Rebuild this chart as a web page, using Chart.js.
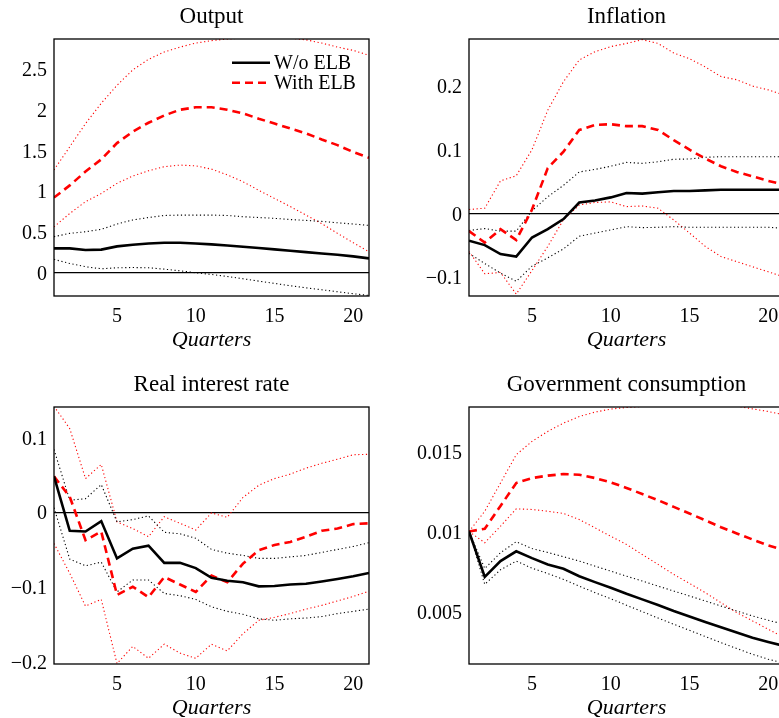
<!DOCTYPE html>
<html>
<head>
<meta charset="utf-8">
<title>Impulse responses with and without ELB</title>
<script src="https://cdn.jsdelivr.net/npm/chart.js@4.4.1/dist/chart.umd.min.js"></script>
<style>
    html, body { margin: 0; padding: 0; background: #ffffff; overflow: hidden; }
    body { position: relative; width: 779px; height: 718px; }
    canvas { position: absolute; }
</style>
</head>
<body>
<canvas id="outputChart" width="390" height="360" style="left:0;top:0"></canvas>
<canvas id="inflationChart" width="415" height="360" style="left:390px;top:0"></canvas>
<canvas id="rateChart" width="390" height="360" style="left:0;top:368px"></canvas>
<canvas id="govChart" width="415" height="360" style="left:390px;top:368px"></canvas>
<script>
/* ==========================================================================
   Impulse responses - data
   ========================================================================== */

const quarters = [1, 2, 3, 4, 5, 6, 7, 8, 9, 10, 11, 12, 13, 14, 15, 16, 17, 18, 19, 20, 21];
const xTicks = [5, 10, 15, 20];

// Output
const outputTicks = [0, 0.5, 1, 1.5, 2, 2.5];
const outputNoElb = [0.295, 0.295, 0.275, 0.28, 0.32, 0.34, 0.355, 0.365, 0.365, 0.355, 0.345, 0.33, 0.315, 0.3, 0.283, 0.266, 0.25, 0.233, 0.217, 0.197, 0.172];
const outputNoElbLow = [0.16, 0.11, 0.07, 0.045, 0.057, 0.06, 0.057, 0.04, 0.02, -0.004, -0.025, -0.05, -0.078, -0.107, -0.135, -0.164, -0.19, -0.213, -0.238, -0.262, -0.283];
const outputNoElbHigh = [0.44, 0.48, 0.5, 0.53, 0.595, 0.645, 0.675, 0.7, 0.705, 0.705, 0.705, 0.7, 0.685, 0.675, 0.665, 0.65, 0.64, 0.627, 0.61, 0.595, 0.578];
const outputElb = [0.92, 1.07, 1.24, 1.39, 1.59, 1.73, 1.84, 1.93, 2.0, 2.03, 2.03, 2.0, 1.955, 1.89, 1.83, 1.77, 1.71, 1.635, 1.565, 1.48, 1.41];
const outputElbLow = [0.56, 0.725, 0.87, 0.97, 1.095, 1.185, 1.25, 1.3, 1.32, 1.31, 1.27, 1.2, 1.115, 1.01, 0.91, 0.81, 0.705, 0.6, 0.48, 0.365, 0.254];
const outputElbHigh = [1.26, 1.545, 1.83, 2.08, 2.3, 2.49, 2.62, 2.71, 2.77, 2.82, 2.85, 2.87, 2.88, 2.89, 2.89, 2.88, 2.86, 2.82, 2.77, 2.73, 2.67];

// Inflation
const inflationTicks = [-0.1, 0, 0.1, 0.2];
const inflationNoElb = [-0.043, -0.05, -0.064, -0.068, -0.038, -0.025, -0.009, 0.017, 0.02, 0.025, 0.032, 0.031, 0.033, 0.035, 0.035, 0.036, 0.037, 0.037, 0.037, 0.037, 0.037];
const inflationNoElbLow = [-0.063, -0.079, -0.094, -0.107, -0.083, -0.07, -0.056, -0.036, -0.031, -0.026, -0.021, -0.0225, -0.022, -0.021, -0.022, -0.022, -0.022, -0.022, -0.022, -0.022, -0.0235];
const inflationNoElbHigh = [-0.027, -0.024, -0.028, -0.028, 0.004, 0.026, 0.044, 0.065, 0.069, 0.074, 0.08, 0.0785, 0.081, 0.085, 0.0853, 0.088, 0.089, 0.089, 0.089, 0.089, 0.089];
const inflationElb = [-0.028, -0.046, -0.025, -0.042, 0.006, 0.071, 0.097, 0.131, 0.139, 0.14, 0.137, 0.137, 0.131, 0.115, 0.1, 0.086, 0.074, 0.065, 0.058, 0.051, 0.045];
const inflationElbLow = [-0.06, -0.095, -0.093, -0.127, -0.09, -0.052, -0.01, 0.013, 0.017, 0.018, 0.0105, 0.0115, 0.008, -0.0105, -0.031, -0.052, -0.068, -0.076, -0.084, -0.092, -0.1];
const inflationElbHigh = [0.006, 0.008, 0.051, 0.059, 0.1, 0.162, 0.207, 0.241, 0.254, 0.262, 0.267, 0.273, 0.267, 0.252, 0.243, 0.23, 0.215, 0.21, 0.2, 0.194, 0.186];

// Real interest rate
const rateTicks = [-0.2, -0.1, 0, 0.1];
const rateNoElb = [0.048, -0.025, -0.026, -0.012, -0.062, -0.049, -0.045, -0.068, -0.068, -0.075, -0.088, -0.092, -0.094, -0.0995, -0.099, -0.097, -0.096, -0.093, -0.0897, -0.086, -0.0816];
const rateNoElbLow = [0.006, -0.063, -0.072, -0.067, -0.107, -0.091, -0.091, -0.109, -0.112, -0.117, -0.127, -0.133, -0.137, -0.143, -0.145, -0.143, -0.142, -0.14, -0.136, -0.133, -0.13];
const rateNoElbHigh = [0.084, 0.016, 0.018, 0.037, -0.013, -0.01, -0.005, -0.027, -0.029, -0.035, -0.05, -0.055, -0.058, -0.062, -0.062, -0.06, -0.058, -0.054, -0.05, -0.046, -0.041];
const rateElb = [0.048, 0.0206, -0.0376, -0.026, -0.111, -0.1, -0.114, -0.087, -0.097, -0.107, -0.085, -0.094, -0.069, -0.051, -0.044, -0.04, -0.033, -0.025, -0.022, -0.016, -0.015];
const rateElbLow = [-0.042, -0.082, -0.126, -0.117, -0.203, -0.18, -0.196, -0.177, -0.189, -0.196, -0.177, -0.186, -0.163, -0.145, -0.141, -0.136, -0.13, -0.125, -0.119, -0.113, -0.106];
const rateElbHigh = [0.142, 0.112, 0.045, 0.064, -0.013, -0.022, -0.033, -0.006, -0.015, -0.024, -0.001, -0.007, 0.0197, 0.036, 0.045, 0.051, 0.059, 0.0655, 0.071, 0.077, 0.0776];

// Government consumption
const govTicks = [0.005, 0.01, 0.015];
const govNoElb = [0.01, 0.00716, 0.00815, 0.00876, 0.00833, 0.00794, 0.00767, 0.0072, 0.00683, 0.00648, 0.0061, 0.00575, 0.0054, 0.00502, 0.00467, 0.00433, 0.004, 0.00367, 0.00335, 0.00308, 0.00283];
const govNoElbLow = [0.01, 0.00669, 0.0076, 0.00815, 0.0077, 0.00737, 0.007, 0.00658, 0.00617, 0.00579, 0.00538, 0.00498, 0.00458, 0.00419, 0.00381, 0.00342, 0.00304, 0.00267, 0.00231, 0.002, 0.00175];
const govNoElbHigh = [0.01, 0.00768, 0.00867, 0.00936, 0.00893, 0.00869, 0.00842, 0.00815, 0.00783, 0.00752, 0.0072, 0.0069, 0.00658, 0.00627, 0.00596, 0.00565, 0.00533, 0.00502, 0.00471, 0.00444, 0.00419];
const govElb = [0.01, 0.01017, 0.0116, 0.01304, 0.01335, 0.0135, 0.0136, 0.01356, 0.01335, 0.01308, 0.01273, 0.01235, 0.01196, 0.01154, 0.01113, 0.0107, 0.01027, 0.00988, 0.0095, 0.00913, 0.00883];
const govElbLow = [0.01, 0.0093, 0.01033, 0.01142, 0.01138, 0.01127, 0.01113, 0.01075, 0.01023, 0.0097, 0.00919, 0.00856, 0.00794, 0.00731, 0.00675, 0.00617, 0.00554, 0.00492, 0.0044, 0.00388, 0.00335];
const govElbHigh = [0.01, 0.01127, 0.01304, 0.01481, 0.01565, 0.01627, 0.01679, 0.0172, 0.01748, 0.01767, 0.01777, 0.01783, 0.0179, 0.0179, 0.0179, 0.0179, 0.0179, 0.01785, 0.01768, 0.01752, 0.01731];

/* ==========================================================================
   Shared settings and plugins
   ========================================================================== */

const COLORS = { black: '#000000', red: '#ff0000' };
const SERIF = "'Liberation Serif', 'Times New Roman', serif";

Chart.defaults.font.family = SERIF;
Chart.defaults.color = COLORS.black;

const toPoints = (values) => quarters.map((q, i) => ({ x: q, y: values[i] }));

const formatTick = (value) => String(+value.toFixed(4)).replace('-', '\u2212');

// black box round the plotting area
const plotFrame = {
    id: 'plotFrame',
    afterDatasetsDraw(chart) {
        const { ctx, chartArea: a } = chart;
        ctx.save();
        ctx.strokeStyle = COLORS.black;
        ctx.lineWidth = 1.3;
        ctx.strokeRect(a.left, a.top, a.right - a.left, a.bottom - a.top);
        ctx.restore();
    }
};

// legend drawn inside the upper right corner of the plot
const innerLegend = {
    id: 'innerLegend',
    afterDraw(chart, args, opts) {
        if (!opts.display) return;
        const { ctx, chartArea } = chart;
        const items = chart.data.datasets.filter(ds => ds.label);
        ctx.save();
        items.forEach((ds, i) => {
            const y = chartArea.top + opts.top + i * opts.rowGap;
            const x0 = chartArea.right - opts.right;
            ctx.beginPath();
            ctx.setLineDash(ds.borderDash || []);
            ctx.lineWidth = ds.borderWidth;
            ctx.strokeStyle = ds.borderColor;
            ctx.moveTo(x0, y);
            ctx.lineTo(x0 + opts.lineLength, y);
            ctx.stroke();
            ctx.setLineDash([]);
            ctx.fillStyle = COLORS.black;
            ctx.font = `20px ${SERIF}`;
            ctx.textBaseline = 'middle';
            ctx.textAlign = 'left';
            ctx.fillText(ds.label, x0 + opts.lineLength + opts.gap, y + 1);
        });
        ctx.restore();
    }
};

/**
 * Build one impulse response panel
 */
const createPanel = (canvasId, title, lines, yMin, yMax, yTicks, axisWidth, showLegend) => {
    const ctx = document.getElementById(canvasId).getContext('2d');
    const [noElb, noElbLow, noElbHigh, elb, elbLow, elbHigh] = lines;

    const band = (values, color) => ({
        data: toPoints(values),
        borderColor: color,
        borderWidth: 1.1,
        borderDash: [1.2, 2.6],
        pointRadius: 0,
        fill: false
    });

    return new Chart(ctx, {
        type: 'line',
        data: {
            datasets: [
                {
                    label: 'W/o ELB',
                    data: toPoints(noElb),
                    borderColor: COLORS.black,
                    borderWidth: 2.6,
                    pointRadius: 0,
                    fill: false
                },
                {
                    label: 'With ELB',
                    data: toPoints(elb),
                    borderColor: COLORS.red,
                    borderWidth: 2.6,
                    borderDash: [8, 5],
                    pointRadius: 0,
                    fill: false
                },
                band(noElbHigh, COLORS.black),
                band(noElbLow, COLORS.black),
                band(elbHigh, COLORS.red),
                band(elbLow, COLORS.red)
            ]
        },
        options: {
            responsive: false,
            animation: false,
            layout: { padding: { left: 0, right: 21, top: 0, bottom: 0 } },
            scales: {
                x: {
                    type: 'linear',
                    min: 1,
                    max: 21,
                    afterBuildTicks: (scale) => { scale.ticks = xTicks.map(v => ({ value: v })); },
                    afterFit: (scale) => { scale.height = 64; },
                    grid: { display: false },
                    border: { display: false },
                    ticks: {
                        padding: 1,
                        font: { size: 20 },
                        maxRotation: 0,
                        callback: (value) => String(value)
                    },
                    title: {
                        display: true,
                        text: 'Quarters',
                        font: { size: 22, style: 'italic', lineHeight: 1.2 },
                        padding: { top: 0, bottom: 7 }
                    }
                },
                y: {
                    min: yMin,
                    max: yMax,
                    afterBuildTicks: (scale) => { scale.ticks = yTicks.map(v => ({ value: v })); },
                    afterFit: (scale) => { scale.width = axisWidth; },
                    grid: {
                        drawTicks: false,
                        lineWidth: 1.2,
                        color: (c) => (c.tick && c.tick.value === 0 ? COLORS.black : 'rgba(0,0,0,0)')
                    },
                    border: { display: false },
                    ticks: {
                        padding: 7,
                        labelOffset: 2,
                        font: { size: 20 },
                        callback: (value) => formatTick(value)
                    }
                }
            },
            plugins: {
                legend: { display: false },
                tooltip: { enabled: false },
                title: {
                    display: true,
                    text: title,
                    fullSize: false,
                    color: COLORS.black,
                    font: { size: 23, weight: 'normal', lineHeight: 1.2 },
                    padding: { top: 3.2, bottom: 8.2 }
                },
                innerLegend: {
                    display: showLegend,
                    top: 23.7,
                    rowGap: 20,
                    right: 137,
                    lineLength: 38,
                    gap: 4
                }
            }
        },
        plugins: [plotFrame, innerLegend]
    });
};

createPanel('outputChart', 'Output',
    [outputNoElb, outputNoElbLow, outputNoElbHigh, outputElb, outputElbLow, outputElbHigh],
    -0.29, 2.87, outputTicks, 54, true);

createPanel('inflationChart', 'Inflation',
    [inflationNoElb, inflationNoElbLow, inflationNoElbHigh, inflationElb, inflationElbLow, inflationElbHigh],
    -0.13, 0.274, inflationTicks, 79, false);

createPanel('rateChart', 'Real interest rate',
    [rateNoElb, rateNoElbLow, rateNoElbHigh, rateElb, rateElbLow, rateElbHigh],
    -0.2036, 0.141, rateTicks, 54, false);

createPanel('govChart', 'Government consumption',
    [govNoElb, govNoElbLow, govNoElbHigh, govElb, govElbLow, govElbHigh],
    0.0017, 0.0178, govTicks, 79, false);
</script>
</body>
</html>
